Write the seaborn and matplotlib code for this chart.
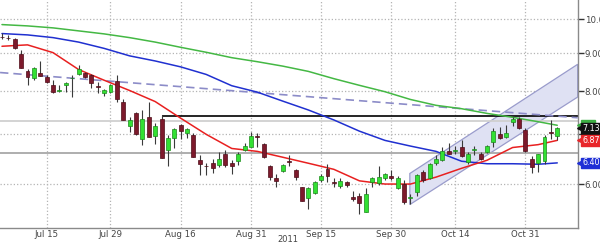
import numpy as np
import pandas as pd
import matplotlib
matplotlib.use("Agg")
import matplotlib.pyplot as plt
import seaborn as sns
from matplotlib.patches import Polygon
from matplotlib.ticker import NullLocator, FixedLocator, FixedFormatter

# ---------------- data ----------------
opens = [9.48, 9.44, 9.42, 8.99, 8.51, 8.33, 8.47, 8.37, 8.17, 8.00,
         8.15, 8.33, 8.43, 8.46, 8.41, 8.13, 7.97, 7.98, 8.26, 7.74,
         7.18, 7.49, 6.91, 7.38, 6.96, 7.35, 6.67, 6.92, 7.21, 7.03,
         6.98, 6.47, 6.35, 6.41, 6.37, 6.58, 6.40, 6.45, 6.66, 6.74,
         6.96, 6.79, 6.34, 6.11, 6.25, 6.44, 6.27, 5.94, 5.75, 5.83,
         6.08, 6.29, 6.03, 5.97, 6.03, 5.77, 5.79, 5.51, 6.03, 6.02,
         6.11, 6.16, 5.92, 6.00, 5.74, 5.86, 6.23, 6.11, 6.40, 6.47,
         6.64, 6.64, 6.73, 6.43, 6.67, 6.59, 6.63, 6.84, 7.01, 6.94,
         7.28, 7.34, 7.09, 6.49, 6.40, 6.45, 7.05, 6.96]
highs = [9.60, 9.52, 9.44, 9.08, 8.58, 8.63, 8.79, 8.41, 8.28, 8.15,
         8.23, 8.41, 8.67, 8.49, 8.43, 8.24, 8.07, 8.19, 8.41, 7.82,
         7.38, 7.51, 7.54, 7.74, 7.25, 7.43, 6.98, 7.14, 7.23, 7.14,
         7.02, 6.56, 6.40, 6.49, 6.63, 6.66, 6.47, 6.63, 6.81, 7.06,
         7.02, 6.81, 6.36, 6.19, 6.39, 6.56, 6.29, 5.95, 5.95, 6.06,
         6.19, 6.39, 6.11, 6.11, 6.05, 5.88, 5.83, 5.92, 6.13, 6.35,
         6.21, 6.26, 6.16, 6.07, 5.82, 6.19, 6.26, 6.40, 6.57, 6.73,
         6.81, 6.76, 6.87, 6.63, 6.76, 6.63, 6.78, 7.13, 7.16, 7.20,
         7.38, 7.38, 7.13, 6.54, 6.59, 6.98, 7.31, 7.16]
lows = [9.40, 9.37, 9.12, 8.59, 8.15, 8.28, 8.38, 8.22, 7.96, 7.98,
        7.98, 7.86, 8.41, 8.33, 8.09, 7.96, 7.88, 7.95, 7.74, 7.31,
        7.06, 6.99, 6.78, 6.94, 6.80, 6.50, 6.34, 6.71, 6.91, 6.93,
        6.52, 6.18, 6.18, 6.21, 6.33, 6.33, 6.19, 6.36, 6.65, 6.73,
        6.73, 6.50, 6.07, 5.94, 6.22, 6.34, 6.08, 5.69, 5.56, 5.82,
        6.04, 6.04, 5.95, 5.92, 5.95, 5.70, 5.47, 5.51, 5.95, 5.99,
        6.07, 6.07, 5.90, 5.64, 5.64, 5.79, 6.04, 6.09, 6.37, 6.45,
        6.58, 6.59, 6.53, 6.38, 6.56, 6.47, 6.61, 6.73, 6.91, 6.93,
        7.18, 7.11, 6.63, 6.20, 6.23, 6.38, 6.91, 6.87]
closes = [9.47, 9.43, 9.16, 8.60, 8.37, 8.60, 8.39, 8.24, 7.98, 8.04,
          8.22, 8.34, 8.58, 8.36, 8.21, 8.12, 8.04, 8.17, 7.80, 7.32,
          7.31, 7.00, 7.34, 6.94, 7.18, 6.51, 6.92, 7.11, 7.07, 7.11,
          6.53, 6.39, 6.34, 6.30, 6.48, 6.37, 6.34, 6.58, 6.76, 6.96,
          6.95, 6.52, 6.14, 6.06, 6.37, 6.43, 6.13, 5.70, 5.93, 6.04,
          6.16, 6.16, 6.02, 6.05, 5.99, 5.73, 5.65, 5.82, 6.11, 6.13,
          6.19, 6.11, 6.11, 5.67, 5.77, 6.18, 6.07, 6.39, 6.49, 6.64,
          6.59, 6.66, 6.54, 6.59, 6.68, 6.49, 6.76, 7.07, 6.92, 7.04,
          7.35, 7.15, 6.64, 6.33, 6.58, 6.95, 7.04, 7.135]

ma_idx = [0, 4, 8, 12, 16, 20, 24, 28, 32, 36, 40, 44,
          48, 52, 56, 60, 64, 68, 72, 76, 80, 84, 87]
ma_fast = [9.20, 9.24, 9.02, 8.56, 8.28, 8.02, 7.75, 7.36, 7.00, 6.70, 6.64, 6.52,
           6.40, 6.28, 6.06, 6.00, 6.00, 6.13, 6.30, 6.46, 6.72, 6.78, 6.871]
ma_mid = [9.57, 9.53, 9.45, 9.32, 9.14, 8.93, 8.79, 8.63, 8.43, 8.14, 7.98, 7.76,
          7.55, 7.32, 7.07, 6.87, 6.75, 6.64, 6.44, 6.39, 6.39, 6.38, 6.407]
ma_slow = [9.84, 9.80, 9.74, 9.65, 9.56, 9.45, 9.32, 9.17, 9.03, 8.88, 8.77, 8.65,
           8.51, 8.32, 8.15, 7.99, 7.80, 7.66, 7.58, 7.47, 7.38, 7.28, 7.20]

trend_x = [-0.3, 90.2]
trend_y = [8.48, 7.37]
chan_x = [63.9, 90.2]
chan_upper = [6.20, 8.70]
chan_lower = [5.63, 7.86]
resist_start = 25
resist_level = 7.42
level_light = 7.29
level_dark = 6.60

major_pos = [7, 17, 28, 39, 50, 61, 71, 82]
major_lab = ["Jul 15", "Jul 29", "Aug 16", "Aug 31", "Sep 15", "Sep 30", "Oct 14", "Oct 31"]
minor_pos = [1, 12, 22, 33, 45, 55, 66, 77, 88]
year_label = "2011"
year_pos = 44.8
ytick_vals = [6, 7, 8, 9, 10]
ytick_lab = ["6.00", "7.00", "8.00", "9.00", "10.00"]

tag_vals = [7.20, 7.135, 6.871, 6.407]
tag_text = ["     ", "7.135", "6.871", "6.407"]
tag_cols = ["#3cb043", "#111111", "#e8262a", "#1f2fd6"]

# ---------------- figure ----------------
sns.set_theme(style="white")
plt.rcParams['font.family'] = ['DejaVu Sans']

fig = plt.figure(figsize=(6.0, 2.45), dpi=100)
ax = fig.add_axes([0.0, 17.3 / 245, 577.7 / 600, 227.7 / 245])
ax.set_facecolor("white")
ax.set_yscale("log")

# channel
poly = Polygon([(chan_x[0], chan_lower[0]), (chan_x[0], chan_upper[0]),
                (chan_x[1], chan_upper[1]), (chan_x[1], chan_lower[1])],
               closed=True, facecolor="#dfe1f3", edgecolor="#9a9ccc", linewidth=0.9, zorder=1)
ax.add_patch(poly)

# horizontal levels
ax.axhline(level_light, color="#d0d0d0", linewidth=1.3, zorder=1.5)
ax.axhline(level_dark, color="#a8a8a8", linewidth=1.3, zorder=1.5)
ax.hlines(resist_level, resist_start, 90.2, color="black", linewidth=1.2, zorder=2)

# trend (dashed)
ax.plot(trend_x, trend_y, color="#8c8cc8", linestyle=(0, (5, 3)), linewidth=1.2, zorder=2)

# moving averages via seaborn
df = pd.DataFrame({"idx": ma_idx, "fast": ma_fast, "mid": ma_mid, "slow": ma_slow})
sns.lineplot(data=df, x="idx", y="slow", color="#44b844", linewidth=1.1, ax=ax, zorder=3)
sns.lineplot(data=df, x="idx", y="mid", color="#2030d0", linewidth=1.1, ax=ax, zorder=3)
sns.lineplot(data=df, x="idx", y="fast", color="#e82020", linewidth=1.1, ax=ax, zorder=3)

# candles
idx = np.arange(len(closes))
o = np.array(opens); c = np.array(closes); h = np.array(highs); l = np.array(lows)
ax.vlines(idx, l, h, color="#3a3a3a", linewidth=0.8, zorder=4)
up = c >= o
dn = ~up
ax.bar(idx[up], c[up] - o[up], bottom=o[up], width=0.62, color="#33e033",
       edgecolor="#1c8a1c", linewidth=0.5, zorder=5)
ax.bar(idx[dn], o[dn] - c[dn], bottom=c[dn], width=0.62, color="#7d1a2c",
       edgecolor="#4d0c18", linewidth=0.5, zorder=5)

# limits, ticks, grid (after seaborn so nothing resets them)
ax.set_xlim(-0.31, 90.2)
ax.set_ylim(5.24, 10.62)
ax.yaxis.set_major_locator(FixedLocator(ytick_vals))
ax.yaxis.set_major_formatter(FixedFormatter(ytick_lab))
ax.yaxis.set_minor_locator(NullLocator())
ax.xaxis.set_major_locator(FixedLocator(major_pos))
ax.xaxis.set_major_formatter(FixedFormatter(major_lab))
ax.xaxis.set_minor_locator(FixedLocator(minor_pos))
ax.set_axisbelow(True)
ax.grid(True, which="major", axis="both", color="#b4b4b4", linestyle=":", linewidth=0.9)

# axes cosmetics
for s in ["left", "top"]:
    ax.spines[s].set_visible(False)
for s in ["right", "bottom"]:
    ax.spines[s].set_color("#8a8a8a")
    ax.spines[s].set_linewidth(1.0)
ax.yaxis.tick_right()
ax.tick_params(axis="y", which="major", direction="out", length=4, width=1,
               color="#333333", labelsize=6.2, labelcolor="#444444", pad=1)
ax.tick_params(axis="x", which="major", direction="inout", length=3, width=0.8,
               color="#8a8a8a", labelsize=6.2, labelcolor="#444444", pad=0.5)
ax.tick_params(axis="x", which="minor", direction="inout", length=4, width=0.8,
               color="#8a8a8a")
ax.set_xlabel("")
ax.set_ylabel("")
ax.text(year_pos, -0.05, year_label, transform=ax.get_xaxis_transform(),
        ha="center", va="center", fontsize=6.0, color="#444444")

# right-hand value tags
for v, t, col in zip(tag_vals, tag_text, tag_cols):
    ax.plot([1.004], [v], marker="<", markersize=4.5, color=col,
            transform=ax.get_yaxis_transform(), clip_on=False, zorder=8)
    ax.annotate(t, xy=(1.0, v), xycoords=ax.get_yaxis_transform(),
                xytext=(3.2, 0), textcoords="offset points", ha="left", va="center",
                fontsize=5.8, color="white",
                bbox=dict(boxstyle="square,pad=0.1", fc=col, ec=col),
                annotation_clip=False, zorder=8)

fig.savefig("out.png", dpi=100)
